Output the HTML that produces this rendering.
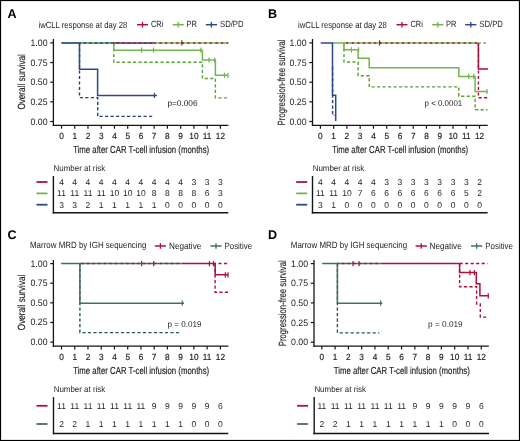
<!DOCTYPE html>
<html><head><meta charset="utf-8"><style>
html,body{margin:0;padding:0;background:#fff;}
body{width:520px;height:441px;overflow:hidden;}
svg{display:block;font-family:"Liberation Sans", sans-serif;will-change:transform;text-rendering:geometricPrecision;}
</style></head><body>
<svg width="520" height="441" viewBox="0 0 520 441">
<rect x="0" y="0" width="520" height="441" fill="#fff"/>
<text x="7.50" y="17.90" font-size="12.6" text-anchor="start" fill="#000" font-weight="bold">A</text>
<text x="38.50" y="27.50" font-size="9.0" text-anchor="start" fill="#1e1e1e" font-weight="normal" textLength="88.8" lengthAdjust="spacingAndGlyphs">iwCLL response at day 28</text>
<line x1="137.00" y1="24.70" x2="148.00" y2="24.70" stroke="#ae1038" stroke-width="1.5"/>
<line x1="142.50" y1="21.90" x2="142.50" y2="27.50" stroke="#ae1038" stroke-width="1.3"/>
<text x="151.00" y="27.40" font-size="9.0" text-anchor="start" fill="#1e1e1e" font-weight="normal" textLength="12.4" lengthAdjust="spacingAndGlyphs">CRi</text>
<line x1="172.60" y1="24.70" x2="183.80" y2="24.70" stroke="#74b450" stroke-width="1.5"/>
<line x1="178.20" y1="21.90" x2="178.20" y2="27.50" stroke="#74b450" stroke-width="1.3"/>
<text x="186.40" y="27.40" font-size="9.0" text-anchor="start" fill="#1e1e1e" font-weight="normal" textLength="10.4" lengthAdjust="spacingAndGlyphs">PR</text>
<line x1="205.80" y1="24.70" x2="217.00" y2="24.70" stroke="#2b4a86" stroke-width="1.5"/>
<line x1="211.40" y1="21.90" x2="211.40" y2="27.50" stroke="#2b4a86" stroke-width="1.3"/>
<text x="220.00" y="27.40" font-size="9.0" text-anchor="start" fill="#1e1e1e" font-weight="normal" textLength="23.6" lengthAdjust="spacingAndGlyphs">SD/PD</text>
<line x1="53.40" y1="39.00" x2="53.40" y2="126.05" stroke="#151515" stroke-width="1.3"/>
<line x1="52.75" y1="125.40" x2="228.40" y2="125.40" stroke="#151515" stroke-width="1.3"/>
<line x1="50.20" y1="121.50" x2="53.40" y2="121.50" stroke="#151515" stroke-width="1.2"/>
<text x="47.50" y="124.50" font-size="9.3" text-anchor="end" fill="#1e1e1e" font-weight="normal" textLength="17.0" lengthAdjust="spacingAndGlyphs">0.00</text>
<line x1="50.20" y1="101.85" x2="53.40" y2="101.85" stroke="#151515" stroke-width="1.2"/>
<text x="47.50" y="104.85" font-size="9.3" text-anchor="end" fill="#1e1e1e" font-weight="normal" textLength="17.0" lengthAdjust="spacingAndGlyphs">0.25</text>
<line x1="50.20" y1="82.20" x2="53.40" y2="82.20" stroke="#151515" stroke-width="1.2"/>
<text x="47.50" y="85.20" font-size="9.3" text-anchor="end" fill="#1e1e1e" font-weight="normal" textLength="17.0" lengthAdjust="spacingAndGlyphs">0.50</text>
<line x1="50.20" y1="62.55" x2="53.40" y2="62.55" stroke="#151515" stroke-width="1.2"/>
<text x="47.50" y="65.55" font-size="9.3" text-anchor="end" fill="#1e1e1e" font-weight="normal" textLength="17.0" lengthAdjust="spacingAndGlyphs">0.75</text>
<line x1="50.20" y1="42.90" x2="53.40" y2="42.90" stroke="#151515" stroke-width="1.2"/>
<text x="47.50" y="45.90" font-size="9.3" text-anchor="end" fill="#1e1e1e" font-weight="normal" textLength="17.0" lengthAdjust="spacingAndGlyphs">1.00</text>
<line x1="61.50" y1="125.40" x2="61.50" y2="128.70" stroke="#151515" stroke-width="1.2"/>
<text x="0.00" y="0.00" font-size="8.8" text-anchor="middle" fill="#1e1e1e" font-weight="normal" transform="translate(61.50,138.80) scale(0.94,1)" stroke="#262626" stroke-width="0.18">0</text>
<line x1="74.74" y1="125.40" x2="74.74" y2="128.70" stroke="#151515" stroke-width="1.2"/>
<text x="0.00" y="0.00" font-size="8.8" text-anchor="middle" fill="#1e1e1e" font-weight="normal" transform="translate(74.74,138.80) scale(0.94,1)" stroke="#262626" stroke-width="0.18">1</text>
<line x1="87.98" y1="125.40" x2="87.98" y2="128.70" stroke="#151515" stroke-width="1.2"/>
<text x="0.00" y="0.00" font-size="8.8" text-anchor="middle" fill="#1e1e1e" font-weight="normal" transform="translate(87.98,138.80) scale(0.94,1)" stroke="#262626" stroke-width="0.18">2</text>
<line x1="101.22" y1="125.40" x2="101.22" y2="128.70" stroke="#151515" stroke-width="1.2"/>
<text x="0.00" y="0.00" font-size="8.8" text-anchor="middle" fill="#1e1e1e" font-weight="normal" transform="translate(101.22,138.80) scale(0.94,1)" stroke="#262626" stroke-width="0.18">3</text>
<line x1="114.46" y1="125.40" x2="114.46" y2="128.70" stroke="#151515" stroke-width="1.2"/>
<text x="0.00" y="0.00" font-size="8.8" text-anchor="middle" fill="#1e1e1e" font-weight="normal" transform="translate(114.46,138.80) scale(0.94,1)" stroke="#262626" stroke-width="0.18">4</text>
<line x1="127.70" y1="125.40" x2="127.70" y2="128.70" stroke="#151515" stroke-width="1.2"/>
<text x="0.00" y="0.00" font-size="8.8" text-anchor="middle" fill="#1e1e1e" font-weight="normal" transform="translate(127.70,138.80) scale(0.94,1)" stroke="#262626" stroke-width="0.18">5</text>
<line x1="140.94" y1="125.40" x2="140.94" y2="128.70" stroke="#151515" stroke-width="1.2"/>
<text x="0.00" y="0.00" font-size="8.8" text-anchor="middle" fill="#1e1e1e" font-weight="normal" transform="translate(140.94,138.80) scale(0.94,1)" stroke="#262626" stroke-width="0.18">6</text>
<line x1="154.18" y1="125.40" x2="154.18" y2="128.70" stroke="#151515" stroke-width="1.2"/>
<text x="0.00" y="0.00" font-size="8.8" text-anchor="middle" fill="#1e1e1e" font-weight="normal" transform="translate(154.18,138.80) scale(0.94,1)" stroke="#262626" stroke-width="0.18">7</text>
<line x1="167.42" y1="125.40" x2="167.42" y2="128.70" stroke="#151515" stroke-width="1.2"/>
<text x="0.00" y="0.00" font-size="8.8" text-anchor="middle" fill="#1e1e1e" font-weight="normal" transform="translate(167.42,138.80) scale(0.94,1)" stroke="#262626" stroke-width="0.18">8</text>
<line x1="180.66" y1="125.40" x2="180.66" y2="128.70" stroke="#151515" stroke-width="1.2"/>
<text x="0.00" y="0.00" font-size="8.8" text-anchor="middle" fill="#1e1e1e" font-weight="normal" transform="translate(180.66,138.80) scale(0.94,1)" stroke="#262626" stroke-width="0.18">9</text>
<line x1="193.90" y1="125.40" x2="193.90" y2="128.70" stroke="#151515" stroke-width="1.2"/>
<text x="0.00" y="0.00" font-size="8.8" text-anchor="middle" fill="#1e1e1e" font-weight="normal" transform="translate(193.90,138.80) scale(0.94,1)" stroke="#262626" stroke-width="0.18">10</text>
<line x1="207.14" y1="125.40" x2="207.14" y2="128.70" stroke="#151515" stroke-width="1.2"/>
<text x="0.00" y="0.00" font-size="8.8" text-anchor="middle" fill="#1e1e1e" font-weight="normal" transform="translate(207.14,138.80) scale(0.94,1)" stroke="#262626" stroke-width="0.18">11</text>
<line x1="220.38" y1="125.40" x2="220.38" y2="128.70" stroke="#151515" stroke-width="1.2"/>
<text x="0.00" y="0.00" font-size="8.8" text-anchor="middle" fill="#1e1e1e" font-weight="normal" transform="translate(220.38,138.80) scale(0.94,1)" stroke="#262626" stroke-width="0.18">12</text>
<text x="141.14" y="152.50" font-size="10.2" text-anchor="middle" fill="#1e1e1e" font-weight="normal" stroke="#262626" stroke-width="0.18" textLength="136" lengthAdjust="spacingAndGlyphs">Time after CAR T-cell infusion (months)</text>
<text x="0.00" y="0.00" font-size="10.4" text-anchor="middle" fill="#1e1e1e" font-weight="normal" transform="translate(25.30,81.80) rotate(-90) scale(1.0,1)" stroke="#262626" stroke-width="0.18" textLength="55.4" lengthAdjust="spacingAndGlyphs">Overall survival</text>
<path d="M113.80,42.90 H113.80 V62.20 H202.40 V78.50 H215.40 V97.90 H228.00" fill="none" stroke="#58a236" stroke-width="1.4" stroke-dasharray="3.2 2.3"/>
<path d="M61.40,42.90 H113.80 V50.20 H202.40 V60.00 H215.40 V75.30 H228.00" fill="none" stroke="#74b450" stroke-width="1.5"/>
<line x1="141.60" y1="47.60" x2="141.60" y2="52.80" stroke="#74b450" stroke-width="1.2"/>
<line x1="153.50" y1="47.60" x2="153.50" y2="52.80" stroke="#74b450" stroke-width="1.2"/>
<line x1="200.80" y1="47.60" x2="200.80" y2="52.80" stroke="#74b450" stroke-width="1.2"/>
<line x1="209.00" y1="57.40" x2="209.00" y2="62.60" stroke="#74b450" stroke-width="1.2"/>
<line x1="214.60" y1="57.40" x2="214.60" y2="62.60" stroke="#74b450" stroke-width="1.2"/>
<line x1="224.50" y1="72.70" x2="224.50" y2="77.90" stroke="#74b450" stroke-width="1.2"/>
<line x1="228.00" y1="72.70" x2="228.00" y2="77.90" stroke="#74b450" stroke-width="1.2"/>
<line x1="79.50" y1="42.90" x2="113.80" y2="42.90" stroke="#74b450" stroke-width="1.5"/>
<line x1="113.80" y1="42.90" x2="153.80" y2="42.90" stroke="#ae1038" stroke-width="1.5"/>
<line x1="153.80" y1="42.90" x2="228.20" y2="42.90" stroke="#74b450" stroke-width="1.5"/>
<line x1="153.80" y1="42.90" x2="228.20" y2="42.90" stroke="#ae1038" stroke-width="1.5" stroke-dasharray="2.2 3.4" stroke-dashoffset="0.00"/>
<line x1="181.80" y1="40.30" x2="181.80" y2="45.50" stroke="#ae1038" stroke-width="1.2"/>
<path d="M79.50,42.90 H79.50 V97.60 H97.70 V116.40 H153.00" fill="none" stroke="#243f7c" stroke-width="1.4" stroke-dasharray="3.2 2.3"/>
<line x1="79.50" y1="42.90" x2="153.60" y2="42.90" stroke="#2b4a86" stroke-width="1.5" stroke-dasharray="3.3 2.2" stroke-dashoffset="1.70"/>
<path d="M61.40,42.90 H79.50 V69.20 H97.60 V95.40 H157.00" fill="none" stroke="#2b4a86" stroke-width="1.5"/>
<line x1="154.40" y1="92.80" x2="154.40" y2="98.00" stroke="#2b4a86" stroke-width="1.2"/>
<text x="167.40" y="105.70" font-size="8.4" text-anchor="start" fill="#1e1e1e" font-weight="normal" textLength="30.2" lengthAdjust="spacingAndGlyphs">p=0.006</text>
<text x="53.60" y="171.20" font-size="8.5" text-anchor="start" fill="#1e1e1e" font-weight="normal" textLength="51.6" lengthAdjust="spacingAndGlyphs">Number at risk</text>
<line x1="53.40" y1="176.00" x2="53.40" y2="213.50" stroke="#151515" stroke-width="1.4"/>
<line x1="52.70" y1="212.80" x2="228.30" y2="212.80" stroke="#151515" stroke-width="1.5"/>
<line x1="36.50" y1="182.00" x2="47.50" y2="182.00" stroke="#ae1038" stroke-width="1.8"/>
<text x="61.50" y="185.00" font-size="8.5" text-anchor="middle" fill="#1e1e1e" font-weight="normal">4</text>
<text x="74.74" y="185.00" font-size="8.5" text-anchor="middle" fill="#1e1e1e" font-weight="normal">4</text>
<text x="87.98" y="185.00" font-size="8.5" text-anchor="middle" fill="#1e1e1e" font-weight="normal">4</text>
<text x="101.22" y="185.00" font-size="8.5" text-anchor="middle" fill="#1e1e1e" font-weight="normal">4</text>
<text x="114.46" y="185.00" font-size="8.5" text-anchor="middle" fill="#1e1e1e" font-weight="normal">4</text>
<text x="127.70" y="185.00" font-size="8.5" text-anchor="middle" fill="#1e1e1e" font-weight="normal">4</text>
<text x="140.94" y="185.00" font-size="8.5" text-anchor="middle" fill="#1e1e1e" font-weight="normal">4</text>
<text x="154.18" y="185.00" font-size="8.5" text-anchor="middle" fill="#1e1e1e" font-weight="normal">4</text>
<text x="167.42" y="185.00" font-size="8.5" text-anchor="middle" fill="#1e1e1e" font-weight="normal">4</text>
<text x="180.66" y="185.00" font-size="8.5" text-anchor="middle" fill="#1e1e1e" font-weight="normal">4</text>
<text x="193.90" y="185.00" font-size="8.5" text-anchor="middle" fill="#1e1e1e" font-weight="normal">3</text>
<text x="207.14" y="185.00" font-size="8.5" text-anchor="middle" fill="#1e1e1e" font-weight="normal">3</text>
<text x="220.38" y="185.00" font-size="8.5" text-anchor="middle" fill="#1e1e1e" font-weight="normal">3</text>
<line x1="36.50" y1="193.40" x2="47.50" y2="193.40" stroke="#74b450" stroke-width="1.8"/>
<text x="61.50" y="196.40" font-size="8.5" text-anchor="middle" fill="#1e1e1e" font-weight="normal">11</text>
<text x="74.74" y="196.40" font-size="8.5" text-anchor="middle" fill="#1e1e1e" font-weight="normal">11</text>
<text x="87.98" y="196.40" font-size="8.5" text-anchor="middle" fill="#1e1e1e" font-weight="normal">11</text>
<text x="101.22" y="196.40" font-size="8.5" text-anchor="middle" fill="#1e1e1e" font-weight="normal">11</text>
<text x="114.46" y="196.40" font-size="8.5" text-anchor="middle" fill="#1e1e1e" font-weight="normal">10</text>
<text x="127.70" y="196.40" font-size="8.5" text-anchor="middle" fill="#1e1e1e" font-weight="normal">10</text>
<text x="140.94" y="196.40" font-size="8.5" text-anchor="middle" fill="#1e1e1e" font-weight="normal">10</text>
<text x="154.18" y="196.40" font-size="8.5" text-anchor="middle" fill="#1e1e1e" font-weight="normal">8</text>
<text x="167.42" y="196.40" font-size="8.5" text-anchor="middle" fill="#1e1e1e" font-weight="normal">8</text>
<text x="180.66" y="196.40" font-size="8.5" text-anchor="middle" fill="#1e1e1e" font-weight="normal">8</text>
<text x="193.90" y="196.40" font-size="8.5" text-anchor="middle" fill="#1e1e1e" font-weight="normal">8</text>
<text x="207.14" y="196.40" font-size="8.5" text-anchor="middle" fill="#1e1e1e" font-weight="normal">6</text>
<text x="220.38" y="196.40" font-size="8.5" text-anchor="middle" fill="#1e1e1e" font-weight="normal">3</text>
<line x1="36.50" y1="204.70" x2="47.50" y2="204.70" stroke="#2b4a86" stroke-width="1.8"/>
<text x="61.50" y="207.70" font-size="8.5" text-anchor="middle" fill="#1e1e1e" font-weight="normal">3</text>
<text x="74.74" y="207.70" font-size="8.5" text-anchor="middle" fill="#1e1e1e" font-weight="normal">3</text>
<text x="87.98" y="207.70" font-size="8.5" text-anchor="middle" fill="#1e1e1e" font-weight="normal">2</text>
<text x="101.22" y="207.70" font-size="8.5" text-anchor="middle" fill="#1e1e1e" font-weight="normal">1</text>
<text x="114.46" y="207.70" font-size="8.5" text-anchor="middle" fill="#1e1e1e" font-weight="normal">1</text>
<text x="127.70" y="207.70" font-size="8.5" text-anchor="middle" fill="#1e1e1e" font-weight="normal">1</text>
<text x="140.94" y="207.70" font-size="8.5" text-anchor="middle" fill="#1e1e1e" font-weight="normal">1</text>
<text x="154.18" y="207.70" font-size="8.5" text-anchor="middle" fill="#1e1e1e" font-weight="normal">1</text>
<text x="167.42" y="207.70" font-size="8.5" text-anchor="middle" fill="#1e1e1e" font-weight="normal">0</text>
<text x="180.66" y="207.70" font-size="8.5" text-anchor="middle" fill="#1e1e1e" font-weight="normal">0</text>
<text x="193.90" y="207.70" font-size="8.5" text-anchor="middle" fill="#1e1e1e" font-weight="normal">0</text>
<text x="207.14" y="207.70" font-size="8.5" text-anchor="middle" fill="#1e1e1e" font-weight="normal">0</text>
<text x="220.38" y="207.70" font-size="8.5" text-anchor="middle" fill="#1e1e1e" font-weight="normal">0</text>
<text x="268.00" y="17.90" font-size="12.6" text-anchor="start" fill="#000" font-weight="bold">B</text>
<text x="298.10" y="27.50" font-size="9.0" text-anchor="start" fill="#1e1e1e" font-weight="normal" textLength="88.8" lengthAdjust="spacingAndGlyphs">iwCLL response at day 28</text>
<line x1="396.50" y1="24.70" x2="407.50" y2="24.70" stroke="#ae1038" stroke-width="1.5"/>
<line x1="402.00" y1="21.90" x2="402.00" y2="27.50" stroke="#ae1038" stroke-width="1.3"/>
<text x="410.50" y="27.40" font-size="9.0" text-anchor="start" fill="#1e1e1e" font-weight="normal" textLength="12.4" lengthAdjust="spacingAndGlyphs">CRi</text>
<line x1="432.20" y1="24.70" x2="443.40" y2="24.70" stroke="#74b450" stroke-width="1.5"/>
<line x1="437.80" y1="21.90" x2="437.80" y2="27.50" stroke="#74b450" stroke-width="1.3"/>
<text x="446.10" y="27.40" font-size="9.0" text-anchor="start" fill="#1e1e1e" font-weight="normal" textLength="10.4" lengthAdjust="spacingAndGlyphs">PR</text>
<line x1="465.20" y1="24.70" x2="476.40" y2="24.70" stroke="#2b4a86" stroke-width="1.5"/>
<line x1="470.80" y1="21.90" x2="470.80" y2="27.50" stroke="#2b4a86" stroke-width="1.3"/>
<text x="479.30" y="27.40" font-size="9.0" text-anchor="start" fill="#1e1e1e" font-weight="normal" textLength="23.6" lengthAdjust="spacingAndGlyphs">SD/PD</text>
<line x1="312.50" y1="39.00" x2="312.50" y2="126.05" stroke="#151515" stroke-width="1.3"/>
<line x1="311.85" y1="125.40" x2="487.70" y2="125.40" stroke="#151515" stroke-width="1.3"/>
<line x1="309.30" y1="121.50" x2="312.50" y2="121.50" stroke="#151515" stroke-width="1.2"/>
<text x="306.60" y="124.50" font-size="9.3" text-anchor="end" fill="#1e1e1e" font-weight="normal" textLength="17.0" lengthAdjust="spacingAndGlyphs">0.00</text>
<line x1="309.30" y1="101.85" x2="312.50" y2="101.85" stroke="#151515" stroke-width="1.2"/>
<text x="306.60" y="104.85" font-size="9.3" text-anchor="end" fill="#1e1e1e" font-weight="normal" textLength="17.0" lengthAdjust="spacingAndGlyphs">0.25</text>
<line x1="309.30" y1="82.20" x2="312.50" y2="82.20" stroke="#151515" stroke-width="1.2"/>
<text x="306.60" y="85.20" font-size="9.3" text-anchor="end" fill="#1e1e1e" font-weight="normal" textLength="17.0" lengthAdjust="spacingAndGlyphs">0.50</text>
<line x1="309.30" y1="62.55" x2="312.50" y2="62.55" stroke="#151515" stroke-width="1.2"/>
<text x="306.60" y="65.55" font-size="9.3" text-anchor="end" fill="#1e1e1e" font-weight="normal" textLength="17.0" lengthAdjust="spacingAndGlyphs">0.75</text>
<line x1="309.30" y1="42.90" x2="312.50" y2="42.90" stroke="#151515" stroke-width="1.2"/>
<text x="306.60" y="45.90" font-size="9.3" text-anchor="end" fill="#1e1e1e" font-weight="normal" textLength="17.0" lengthAdjust="spacingAndGlyphs">1.00</text>
<line x1="320.40" y1="125.40" x2="320.40" y2="128.70" stroke="#151515" stroke-width="1.2"/>
<text x="0.00" y="0.00" font-size="8.8" text-anchor="middle" fill="#1e1e1e" font-weight="normal" transform="translate(320.40,138.80) scale(0.94,1)" stroke="#262626" stroke-width="0.18">0</text>
<line x1="333.66" y1="125.40" x2="333.66" y2="128.70" stroke="#151515" stroke-width="1.2"/>
<text x="0.00" y="0.00" font-size="8.8" text-anchor="middle" fill="#1e1e1e" font-weight="normal" transform="translate(333.66,138.80) scale(0.94,1)" stroke="#262626" stroke-width="0.18">1</text>
<line x1="346.92" y1="125.40" x2="346.92" y2="128.70" stroke="#151515" stroke-width="1.2"/>
<text x="0.00" y="0.00" font-size="8.8" text-anchor="middle" fill="#1e1e1e" font-weight="normal" transform="translate(346.92,138.80) scale(0.94,1)" stroke="#262626" stroke-width="0.18">2</text>
<line x1="360.18" y1="125.40" x2="360.18" y2="128.70" stroke="#151515" stroke-width="1.2"/>
<text x="0.00" y="0.00" font-size="8.8" text-anchor="middle" fill="#1e1e1e" font-weight="normal" transform="translate(360.18,138.80) scale(0.94,1)" stroke="#262626" stroke-width="0.18">3</text>
<line x1="373.44" y1="125.40" x2="373.44" y2="128.70" stroke="#151515" stroke-width="1.2"/>
<text x="0.00" y="0.00" font-size="8.8" text-anchor="middle" fill="#1e1e1e" font-weight="normal" transform="translate(373.44,138.80) scale(0.94,1)" stroke="#262626" stroke-width="0.18">4</text>
<line x1="386.70" y1="125.40" x2="386.70" y2="128.70" stroke="#151515" stroke-width="1.2"/>
<text x="0.00" y="0.00" font-size="8.8" text-anchor="middle" fill="#1e1e1e" font-weight="normal" transform="translate(386.70,138.80) scale(0.94,1)" stroke="#262626" stroke-width="0.18">5</text>
<line x1="399.96" y1="125.40" x2="399.96" y2="128.70" stroke="#151515" stroke-width="1.2"/>
<text x="0.00" y="0.00" font-size="8.8" text-anchor="middle" fill="#1e1e1e" font-weight="normal" transform="translate(399.96,138.80) scale(0.94,1)" stroke="#262626" stroke-width="0.18">6</text>
<line x1="413.22" y1="125.40" x2="413.22" y2="128.70" stroke="#151515" stroke-width="1.2"/>
<text x="0.00" y="0.00" font-size="8.8" text-anchor="middle" fill="#1e1e1e" font-weight="normal" transform="translate(413.22,138.80) scale(0.94,1)" stroke="#262626" stroke-width="0.18">7</text>
<line x1="426.48" y1="125.40" x2="426.48" y2="128.70" stroke="#151515" stroke-width="1.2"/>
<text x="0.00" y="0.00" font-size="8.8" text-anchor="middle" fill="#1e1e1e" font-weight="normal" transform="translate(426.48,138.80) scale(0.94,1)" stroke="#262626" stroke-width="0.18">8</text>
<line x1="439.74" y1="125.40" x2="439.74" y2="128.70" stroke="#151515" stroke-width="1.2"/>
<text x="0.00" y="0.00" font-size="8.8" text-anchor="middle" fill="#1e1e1e" font-weight="normal" transform="translate(439.74,138.80) scale(0.94,1)" stroke="#262626" stroke-width="0.18">9</text>
<line x1="453.00" y1="125.40" x2="453.00" y2="128.70" stroke="#151515" stroke-width="1.2"/>
<text x="0.00" y="0.00" font-size="8.8" text-anchor="middle" fill="#1e1e1e" font-weight="normal" transform="translate(453.00,138.80) scale(0.94,1)" stroke="#262626" stroke-width="0.18">10</text>
<line x1="466.26" y1="125.40" x2="466.26" y2="128.70" stroke="#151515" stroke-width="1.2"/>
<text x="0.00" y="0.00" font-size="8.8" text-anchor="middle" fill="#1e1e1e" font-weight="normal" transform="translate(466.26,138.80) scale(0.94,1)" stroke="#262626" stroke-width="0.18">11</text>
<line x1="479.52" y1="125.40" x2="479.52" y2="128.70" stroke="#151515" stroke-width="1.2"/>
<text x="0.00" y="0.00" font-size="8.8" text-anchor="middle" fill="#1e1e1e" font-weight="normal" transform="translate(479.52,138.80) scale(0.94,1)" stroke="#262626" stroke-width="0.18">12</text>
<text x="400.16" y="152.50" font-size="10.2" text-anchor="middle" fill="#1e1e1e" font-weight="normal" stroke="#262626" stroke-width="0.18" textLength="136" lengthAdjust="spacingAndGlyphs">Time after CAR T-cell infusion (months)</text>
<text x="0.00" y="0.00" font-size="10.4" text-anchor="middle" fill="#1e1e1e" font-weight="normal" transform="translate(284.60,82.40) rotate(-90) scale(1.0,1)" stroke="#262626" stroke-width="0.18" textLength="86.0" lengthAdjust="spacingAndGlyphs">Progression-free survival</text>
<path d="M344.00,42.90 H344.00 V62.00 H358.10 V75.70 H369.20 V86.90 H458.80 V96.20 H475.10 V109.80 H487.50" fill="none" stroke="#58a236" stroke-width="1.4" stroke-dasharray="3.2 2.3"/>
<path d="M332.50,42.90 H344.00 V49.80 H358.10 V58.30 H369.20 V67.80 H458.80 V76.40 H475.10 V91.50 H487.50" fill="none" stroke="#74b450" stroke-width="1.5"/>
<line x1="351.40" y1="47.20" x2="351.40" y2="52.40" stroke="#74b450" stroke-width="1.2"/>
<line x1="358.60" y1="47.20" x2="358.60" y2="52.40" stroke="#74b450" stroke-width="1.2"/>
<line x1="468.60" y1="73.80" x2="468.60" y2="79.00" stroke="#74b450" stroke-width="1.2"/>
<line x1="473.70" y1="73.80" x2="473.70" y2="79.00" stroke="#74b450" stroke-width="1.2"/>
<line x1="487.00" y1="88.90" x2="487.00" y2="94.10" stroke="#74b450" stroke-width="1.2"/>
<line x1="344.00" y1="42.90" x2="478.40" y2="42.90" stroke="#74b450" stroke-width="1.5"/>
<line x1="344.00" y1="42.90" x2="478.40" y2="42.90" stroke="#ae1038" stroke-width="1.5" stroke-dasharray="2.2 3.39" stroke-dashoffset="3.49"/>
<line x1="379.60" y1="40.30" x2="379.60" y2="45.50" stroke="#ae1038" stroke-width="1.2"/>
<line x1="478.40" y1="42.90" x2="486.00" y2="42.90" stroke="#74b450" stroke-width="1.5" stroke-dasharray="3.3 2.4" stroke-dashoffset="0.80"/>
<path d="M478.40,42.90 H478.40 V97.80 H488.00" fill="none" stroke="#ae1038" stroke-width="1.4" stroke-dasharray="3.2 2.3"/>
<path d="M478.40,42.90 H478.40 V69.00 H488.00" fill="none" stroke="#ae1038" stroke-width="1.5"/>
<path d="M332.60,67.00 H332.60 V115.40 H334.50" fill="none" stroke="#243f7c" stroke-width="1.4" stroke-dasharray="3.2 2.3"/>
<path d="M320.70,42.90 H332.50 V95.20 H335.70 V121.00 H335.70" fill="none" stroke="#2b4a86" stroke-width="1.5"/>
<text x="424.50" y="105.70" font-size="8.4" text-anchor="start" fill="#1e1e1e" font-weight="normal" textLength="37.8" lengthAdjust="spacingAndGlyphs">p &lt; 0.0001</text>
<text x="312.70" y="171.20" font-size="8.5" text-anchor="start" fill="#1e1e1e" font-weight="normal" textLength="51.6" lengthAdjust="spacingAndGlyphs">Number at risk</text>
<line x1="312.50" y1="176.00" x2="312.50" y2="213.50" stroke="#151515" stroke-width="1.4"/>
<line x1="311.80" y1="212.80" x2="487.60" y2="212.80" stroke="#151515" stroke-width="1.5"/>
<line x1="296.20" y1="182.00" x2="307.20" y2="182.00" stroke="#ae1038" stroke-width="1.8"/>
<text x="320.40" y="185.00" font-size="8.5" text-anchor="middle" fill="#1e1e1e" font-weight="normal">4</text>
<text x="333.66" y="185.00" font-size="8.5" text-anchor="middle" fill="#1e1e1e" font-weight="normal">4</text>
<text x="346.92" y="185.00" font-size="8.5" text-anchor="middle" fill="#1e1e1e" font-weight="normal">4</text>
<text x="360.18" y="185.00" font-size="8.5" text-anchor="middle" fill="#1e1e1e" font-weight="normal">4</text>
<text x="373.44" y="185.00" font-size="8.5" text-anchor="middle" fill="#1e1e1e" font-weight="normal">4</text>
<text x="386.70" y="185.00" font-size="8.5" text-anchor="middle" fill="#1e1e1e" font-weight="normal">3</text>
<text x="399.96" y="185.00" font-size="8.5" text-anchor="middle" fill="#1e1e1e" font-weight="normal">3</text>
<text x="413.22" y="185.00" font-size="8.5" text-anchor="middle" fill="#1e1e1e" font-weight="normal">3</text>
<text x="426.48" y="185.00" font-size="8.5" text-anchor="middle" fill="#1e1e1e" font-weight="normal">3</text>
<text x="439.74" y="185.00" font-size="8.5" text-anchor="middle" fill="#1e1e1e" font-weight="normal">3</text>
<text x="453.00" y="185.00" font-size="8.5" text-anchor="middle" fill="#1e1e1e" font-weight="normal">3</text>
<text x="466.26" y="185.00" font-size="8.5" text-anchor="middle" fill="#1e1e1e" font-weight="normal">3</text>
<text x="479.52" y="185.00" font-size="8.5" text-anchor="middle" fill="#1e1e1e" font-weight="normal">2</text>
<line x1="296.20" y1="193.40" x2="307.20" y2="193.40" stroke="#74b450" stroke-width="1.8"/>
<text x="320.40" y="196.40" font-size="8.5" text-anchor="middle" fill="#1e1e1e" font-weight="normal">11</text>
<text x="333.66" y="196.40" font-size="8.5" text-anchor="middle" fill="#1e1e1e" font-weight="normal">11</text>
<text x="346.92" y="196.40" font-size="8.5" text-anchor="middle" fill="#1e1e1e" font-weight="normal">10</text>
<text x="360.18" y="196.40" font-size="8.5" text-anchor="middle" fill="#1e1e1e" font-weight="normal">7</text>
<text x="373.44" y="196.40" font-size="8.5" text-anchor="middle" fill="#1e1e1e" font-weight="normal">6</text>
<text x="386.70" y="196.40" font-size="8.5" text-anchor="middle" fill="#1e1e1e" font-weight="normal">6</text>
<text x="399.96" y="196.40" font-size="8.5" text-anchor="middle" fill="#1e1e1e" font-weight="normal">6</text>
<text x="413.22" y="196.40" font-size="8.5" text-anchor="middle" fill="#1e1e1e" font-weight="normal">6</text>
<text x="426.48" y="196.40" font-size="8.5" text-anchor="middle" fill="#1e1e1e" font-weight="normal">6</text>
<text x="439.74" y="196.40" font-size="8.5" text-anchor="middle" fill="#1e1e1e" font-weight="normal">6</text>
<text x="453.00" y="196.40" font-size="8.5" text-anchor="middle" fill="#1e1e1e" font-weight="normal">6</text>
<text x="466.26" y="196.40" font-size="8.5" text-anchor="middle" fill="#1e1e1e" font-weight="normal">5</text>
<text x="479.52" y="196.40" font-size="8.5" text-anchor="middle" fill="#1e1e1e" font-weight="normal">2</text>
<line x1="296.20" y1="204.70" x2="307.20" y2="204.70" stroke="#2b4a86" stroke-width="1.8"/>
<text x="320.40" y="207.70" font-size="8.5" text-anchor="middle" fill="#1e1e1e" font-weight="normal">3</text>
<text x="333.66" y="207.70" font-size="8.5" text-anchor="middle" fill="#1e1e1e" font-weight="normal">1</text>
<text x="346.92" y="207.70" font-size="8.5" text-anchor="middle" fill="#1e1e1e" font-weight="normal">0</text>
<text x="360.18" y="207.70" font-size="8.5" text-anchor="middle" fill="#1e1e1e" font-weight="normal">0</text>
<text x="373.44" y="207.70" font-size="8.5" text-anchor="middle" fill="#1e1e1e" font-weight="normal">0</text>
<text x="386.70" y="207.70" font-size="8.5" text-anchor="middle" fill="#1e1e1e" font-weight="normal">0</text>
<text x="399.96" y="207.70" font-size="8.5" text-anchor="middle" fill="#1e1e1e" font-weight="normal">0</text>
<text x="413.22" y="207.70" font-size="8.5" text-anchor="middle" fill="#1e1e1e" font-weight="normal">0</text>
<text x="426.48" y="207.70" font-size="8.5" text-anchor="middle" fill="#1e1e1e" font-weight="normal">0</text>
<text x="439.74" y="207.70" font-size="8.5" text-anchor="middle" fill="#1e1e1e" font-weight="normal">0</text>
<text x="453.00" y="207.70" font-size="8.5" text-anchor="middle" fill="#1e1e1e" font-weight="normal">0</text>
<text x="466.26" y="207.70" font-size="8.5" text-anchor="middle" fill="#1e1e1e" font-weight="normal">0</text>
<text x="479.52" y="207.70" font-size="8.5" text-anchor="middle" fill="#1e1e1e" font-weight="normal">0</text>
<text x="7.60" y="239.00" font-size="12.6" text-anchor="start" fill="#000" font-weight="bold">C</text>
<text x="30.00" y="248.30" font-size="9.0" text-anchor="start" fill="#1e1e1e" font-weight="normal" textLength="116.4" lengthAdjust="spacingAndGlyphs">Marrow MRD by IGH sequencing</text>
<line x1="154.80" y1="246.00" x2="166.00" y2="246.00" stroke="#ae1038" stroke-width="1.5"/>
<line x1="160.40" y1="243.20" x2="160.40" y2="248.80" stroke="#ae1038" stroke-width="1.3"/>
<text x="169.10" y="248.70" font-size="9.0" text-anchor="start" fill="#1e1e1e" font-weight="normal" textLength="32.2" lengthAdjust="spacingAndGlyphs">Negative</text>
<line x1="210.40" y1="246.00" x2="221.60" y2="246.00" stroke="#44705b" stroke-width="1.5"/>
<line x1="216.00" y1="243.20" x2="216.00" y2="248.80" stroke="#44705b" stroke-width="1.3"/>
<text x="224.50" y="248.70" font-size="9.0" text-anchor="start" fill="#1e1e1e" font-weight="normal" textLength="27.6" lengthAdjust="spacingAndGlyphs">Positive</text>
<line x1="53.40" y1="260.00" x2="53.40" y2="346.85" stroke="#151515" stroke-width="1.3"/>
<line x1="52.75" y1="346.20" x2="228.40" y2="346.20" stroke="#151515" stroke-width="1.3"/>
<line x1="50.20" y1="342.10" x2="53.40" y2="342.10" stroke="#151515" stroke-width="1.2"/>
<text x="47.50" y="345.10" font-size="9.3" text-anchor="end" fill="#1e1e1e" font-weight="normal" textLength="17.0" lengthAdjust="spacingAndGlyphs">0.00</text>
<line x1="50.20" y1="322.48" x2="53.40" y2="322.48" stroke="#151515" stroke-width="1.2"/>
<text x="47.50" y="325.48" font-size="9.3" text-anchor="end" fill="#1e1e1e" font-weight="normal" textLength="17.0" lengthAdjust="spacingAndGlyphs">0.25</text>
<line x1="50.20" y1="302.85" x2="53.40" y2="302.85" stroke="#151515" stroke-width="1.2"/>
<text x="47.50" y="305.85" font-size="9.3" text-anchor="end" fill="#1e1e1e" font-weight="normal" textLength="17.0" lengthAdjust="spacingAndGlyphs">0.50</text>
<line x1="50.20" y1="283.23" x2="53.40" y2="283.23" stroke="#151515" stroke-width="1.2"/>
<text x="47.50" y="286.23" font-size="9.3" text-anchor="end" fill="#1e1e1e" font-weight="normal" textLength="17.0" lengthAdjust="spacingAndGlyphs">0.75</text>
<line x1="50.20" y1="263.60" x2="53.40" y2="263.60" stroke="#151515" stroke-width="1.2"/>
<text x="47.50" y="266.60" font-size="9.3" text-anchor="end" fill="#1e1e1e" font-weight="normal" textLength="17.0" lengthAdjust="spacingAndGlyphs">1.00</text>
<line x1="61.50" y1="346.20" x2="61.50" y2="349.50" stroke="#151515" stroke-width="1.2"/>
<text x="0.00" y="0.00" font-size="8.8" text-anchor="middle" fill="#1e1e1e" font-weight="normal" transform="translate(61.50,359.80) scale(0.94,1)" stroke="#262626" stroke-width="0.18">0</text>
<line x1="74.74" y1="346.20" x2="74.74" y2="349.50" stroke="#151515" stroke-width="1.2"/>
<text x="0.00" y="0.00" font-size="8.8" text-anchor="middle" fill="#1e1e1e" font-weight="normal" transform="translate(74.74,359.80) scale(0.94,1)" stroke="#262626" stroke-width="0.18">1</text>
<line x1="87.98" y1="346.20" x2="87.98" y2="349.50" stroke="#151515" stroke-width="1.2"/>
<text x="0.00" y="0.00" font-size="8.8" text-anchor="middle" fill="#1e1e1e" font-weight="normal" transform="translate(87.98,359.80) scale(0.94,1)" stroke="#262626" stroke-width="0.18">2</text>
<line x1="101.22" y1="346.20" x2="101.22" y2="349.50" stroke="#151515" stroke-width="1.2"/>
<text x="0.00" y="0.00" font-size="8.8" text-anchor="middle" fill="#1e1e1e" font-weight="normal" transform="translate(101.22,359.80) scale(0.94,1)" stroke="#262626" stroke-width="0.18">3</text>
<line x1="114.46" y1="346.20" x2="114.46" y2="349.50" stroke="#151515" stroke-width="1.2"/>
<text x="0.00" y="0.00" font-size="8.8" text-anchor="middle" fill="#1e1e1e" font-weight="normal" transform="translate(114.46,359.80) scale(0.94,1)" stroke="#262626" stroke-width="0.18">4</text>
<line x1="127.70" y1="346.20" x2="127.70" y2="349.50" stroke="#151515" stroke-width="1.2"/>
<text x="0.00" y="0.00" font-size="8.8" text-anchor="middle" fill="#1e1e1e" font-weight="normal" transform="translate(127.70,359.80) scale(0.94,1)" stroke="#262626" stroke-width="0.18">5</text>
<line x1="140.94" y1="346.20" x2="140.94" y2="349.50" stroke="#151515" stroke-width="1.2"/>
<text x="0.00" y="0.00" font-size="8.8" text-anchor="middle" fill="#1e1e1e" font-weight="normal" transform="translate(140.94,359.80) scale(0.94,1)" stroke="#262626" stroke-width="0.18">6</text>
<line x1="154.18" y1="346.20" x2="154.18" y2="349.50" stroke="#151515" stroke-width="1.2"/>
<text x="0.00" y="0.00" font-size="8.8" text-anchor="middle" fill="#1e1e1e" font-weight="normal" transform="translate(154.18,359.80) scale(0.94,1)" stroke="#262626" stroke-width="0.18">7</text>
<line x1="167.42" y1="346.20" x2="167.42" y2="349.50" stroke="#151515" stroke-width="1.2"/>
<text x="0.00" y="0.00" font-size="8.8" text-anchor="middle" fill="#1e1e1e" font-weight="normal" transform="translate(167.42,359.80) scale(0.94,1)" stroke="#262626" stroke-width="0.18">8</text>
<line x1="180.66" y1="346.20" x2="180.66" y2="349.50" stroke="#151515" stroke-width="1.2"/>
<text x="0.00" y="0.00" font-size="8.8" text-anchor="middle" fill="#1e1e1e" font-weight="normal" transform="translate(180.66,359.80) scale(0.94,1)" stroke="#262626" stroke-width="0.18">9</text>
<line x1="193.90" y1="346.20" x2="193.90" y2="349.50" stroke="#151515" stroke-width="1.2"/>
<text x="0.00" y="0.00" font-size="8.8" text-anchor="middle" fill="#1e1e1e" font-weight="normal" transform="translate(193.90,359.80) scale(0.94,1)" stroke="#262626" stroke-width="0.18">10</text>
<line x1="207.14" y1="346.20" x2="207.14" y2="349.50" stroke="#151515" stroke-width="1.2"/>
<text x="0.00" y="0.00" font-size="8.8" text-anchor="middle" fill="#1e1e1e" font-weight="normal" transform="translate(207.14,359.80) scale(0.94,1)" stroke="#262626" stroke-width="0.18">11</text>
<line x1="220.38" y1="346.20" x2="220.38" y2="349.50" stroke="#151515" stroke-width="1.2"/>
<text x="0.00" y="0.00" font-size="8.8" text-anchor="middle" fill="#1e1e1e" font-weight="normal" transform="translate(220.38,359.80) scale(0.94,1)" stroke="#262626" stroke-width="0.18">12</text>
<text x="141.14" y="373.50" font-size="10.2" text-anchor="middle" fill="#1e1e1e" font-weight="normal" stroke="#262626" stroke-width="0.18" textLength="136" lengthAdjust="spacingAndGlyphs">Time after CAR T-cell infusion (months)</text>
<text x="0.00" y="0.00" font-size="10.4" text-anchor="middle" fill="#1e1e1e" font-weight="normal" transform="translate(25.30,302.45) rotate(-90) scale(1.0,1)" stroke="#262626" stroke-width="0.18" textLength="55.4" lengthAdjust="spacingAndGlyphs">Overall survival</text>
<path d="M215.10,263.60 H215.10 V292.30 H228.20" fill="none" stroke="#ae1038" stroke-width="1.4" stroke-dasharray="3.2 2.3"/>
<line x1="215.10" y1="263.60" x2="228.20" y2="263.60" stroke="#ae1038" stroke-width="1.5" stroke-dasharray="3.2 2.3" stroke-dashoffset="2.20"/>
<path d="M181.50,263.60 H215.20 V274.80 H228.20" fill="none" stroke="#ae1038" stroke-width="1.5"/>
<line x1="209.40" y1="261.00" x2="209.40" y2="266.20" stroke="#ae1038" stroke-width="1.2"/>
<line x1="213.50" y1="261.00" x2="213.50" y2="266.20" stroke="#ae1038" stroke-width="1.2"/>
<line x1="225.30" y1="272.20" x2="225.30" y2="277.40" stroke="#ae1038" stroke-width="1.2"/>
<line x1="228.00" y1="272.20" x2="228.00" y2="277.40" stroke="#ae1038" stroke-width="1.2"/>
<line x1="79.90" y1="263.60" x2="181.50" y2="263.60" stroke="#44705b" stroke-width="1.5"/>
<line x1="79.90" y1="263.60" x2="181.50" y2="263.60" stroke="#ae1038" stroke-width="1.5" stroke-dasharray="2.2 3.4" stroke-dashoffset="4.10"/>
<line x1="141.60" y1="261.00" x2="141.60" y2="266.20" stroke="#ae1038" stroke-width="1.2"/>
<line x1="153.70" y1="261.00" x2="153.70" y2="266.20" stroke="#ae1038" stroke-width="1.2"/>
<path d="M79.90,263.60 H79.90 V332.60 H179.80" fill="none" stroke="#285a41" stroke-width="1.4" stroke-dasharray="3.2 2.3"/>
<path d="M61.10,263.60 H79.90 V303.20 H184.00" fill="none" stroke="#44705b" stroke-width="1.5"/>
<line x1="182.30" y1="300.60" x2="182.30" y2="305.80" stroke="#44705b" stroke-width="1.2"/>
<text x="167.50" y="326.90" font-size="8.4" text-anchor="start" fill="#1e1e1e" font-weight="normal" textLength="34.0" lengthAdjust="spacingAndGlyphs">p = 0.019</text>
<text x="53.70" y="391.90" font-size="8.5" text-anchor="start" fill="#1e1e1e" font-weight="normal" textLength="51.6" lengthAdjust="spacingAndGlyphs">Number at risk</text>
<line x1="53.50" y1="397.10" x2="53.50" y2="434.20" stroke="#151515" stroke-width="1.4"/>
<line x1="52.80" y1="433.50" x2="228.30" y2="433.50" stroke="#151515" stroke-width="1.5"/>
<line x1="36.50" y1="405.80" x2="47.50" y2="405.80" stroke="#ae1038" stroke-width="1.8"/>
<text x="61.50" y="408.80" font-size="8.5" text-anchor="middle" fill="#1e1e1e" font-weight="normal">11</text>
<text x="74.74" y="408.80" font-size="8.5" text-anchor="middle" fill="#1e1e1e" font-weight="normal">11</text>
<text x="87.98" y="408.80" font-size="8.5" text-anchor="middle" fill="#1e1e1e" font-weight="normal">11</text>
<text x="101.22" y="408.80" font-size="8.5" text-anchor="middle" fill="#1e1e1e" font-weight="normal">11</text>
<text x="114.46" y="408.80" font-size="8.5" text-anchor="middle" fill="#1e1e1e" font-weight="normal">11</text>
<text x="127.70" y="408.80" font-size="8.5" text-anchor="middle" fill="#1e1e1e" font-weight="normal">11</text>
<text x="140.94" y="408.80" font-size="8.5" text-anchor="middle" fill="#1e1e1e" font-weight="normal">11</text>
<text x="154.18" y="408.80" font-size="8.5" text-anchor="middle" fill="#1e1e1e" font-weight="normal">9</text>
<text x="167.42" y="408.80" font-size="8.5" text-anchor="middle" fill="#1e1e1e" font-weight="normal">9</text>
<text x="180.66" y="408.80" font-size="8.5" text-anchor="middle" fill="#1e1e1e" font-weight="normal">9</text>
<text x="193.90" y="408.80" font-size="8.5" text-anchor="middle" fill="#1e1e1e" font-weight="normal">9</text>
<text x="207.14" y="408.80" font-size="8.5" text-anchor="middle" fill="#1e1e1e" font-weight="normal">9</text>
<text x="220.38" y="408.80" font-size="8.5" text-anchor="middle" fill="#1e1e1e" font-weight="normal">6</text>
<line x1="36.50" y1="424.00" x2="47.50" y2="424.00" stroke="#44705b" stroke-width="1.8"/>
<text x="61.50" y="427.00" font-size="8.5" text-anchor="middle" fill="#1e1e1e" font-weight="normal">2</text>
<text x="74.74" y="427.00" font-size="8.5" text-anchor="middle" fill="#1e1e1e" font-weight="normal">2</text>
<text x="87.98" y="427.00" font-size="8.5" text-anchor="middle" fill="#1e1e1e" font-weight="normal">1</text>
<text x="101.22" y="427.00" font-size="8.5" text-anchor="middle" fill="#1e1e1e" font-weight="normal">1</text>
<text x="114.46" y="427.00" font-size="8.5" text-anchor="middle" fill="#1e1e1e" font-weight="normal">1</text>
<text x="127.70" y="427.00" font-size="8.5" text-anchor="middle" fill="#1e1e1e" font-weight="normal">1</text>
<text x="140.94" y="427.00" font-size="8.5" text-anchor="middle" fill="#1e1e1e" font-weight="normal">1</text>
<text x="154.18" y="427.00" font-size="8.5" text-anchor="middle" fill="#1e1e1e" font-weight="normal">1</text>
<text x="167.42" y="427.00" font-size="8.5" text-anchor="middle" fill="#1e1e1e" font-weight="normal">1</text>
<text x="180.66" y="427.00" font-size="8.5" text-anchor="middle" fill="#1e1e1e" font-weight="normal">1</text>
<text x="193.90" y="427.00" font-size="8.5" text-anchor="middle" fill="#1e1e1e" font-weight="normal">0</text>
<text x="207.14" y="427.00" font-size="8.5" text-anchor="middle" fill="#1e1e1e" font-weight="normal">0</text>
<text x="220.38" y="427.00" font-size="8.5" text-anchor="middle" fill="#1e1e1e" font-weight="normal">0</text>
<text x="268.00" y="239.00" font-size="12.6" text-anchor="start" fill="#000" font-weight="bold">D</text>
<text x="290.80" y="248.30" font-size="9.0" text-anchor="start" fill="#1e1e1e" font-weight="normal" textLength="116.4" lengthAdjust="spacingAndGlyphs">Marrow MRD by IGH sequencing</text>
<line x1="415.60" y1="246.00" x2="426.80" y2="246.00" stroke="#ae1038" stroke-width="1.5"/>
<line x1="421.20" y1="243.20" x2="421.20" y2="248.80" stroke="#ae1038" stroke-width="1.3"/>
<text x="429.50" y="248.70" font-size="9.0" text-anchor="start" fill="#1e1e1e" font-weight="normal" textLength="32.2" lengthAdjust="spacingAndGlyphs">Negative</text>
<line x1="471.00" y1="246.00" x2="482.20" y2="246.00" stroke="#44705b" stroke-width="1.5"/>
<line x1="476.60" y1="243.20" x2="476.60" y2="248.80" stroke="#44705b" stroke-width="1.3"/>
<text x="485.30" y="248.70" font-size="9.0" text-anchor="start" fill="#1e1e1e" font-weight="normal" textLength="27.6" lengthAdjust="spacingAndGlyphs">Positive</text>
<line x1="314.00" y1="260.00" x2="314.00" y2="346.85" stroke="#151515" stroke-width="1.3"/>
<line x1="313.35" y1="346.20" x2="488.80" y2="346.20" stroke="#151515" stroke-width="1.3"/>
<line x1="310.80" y1="342.20" x2="314.00" y2="342.20" stroke="#151515" stroke-width="1.2"/>
<text x="308.10" y="345.20" font-size="9.3" text-anchor="end" fill="#1e1e1e" font-weight="normal" textLength="17.0" lengthAdjust="spacingAndGlyphs">0.00</text>
<line x1="310.80" y1="322.55" x2="314.00" y2="322.55" stroke="#151515" stroke-width="1.2"/>
<text x="308.10" y="325.55" font-size="9.3" text-anchor="end" fill="#1e1e1e" font-weight="normal" textLength="17.0" lengthAdjust="spacingAndGlyphs">0.25</text>
<line x1="310.80" y1="302.90" x2="314.00" y2="302.90" stroke="#151515" stroke-width="1.2"/>
<text x="308.10" y="305.90" font-size="9.3" text-anchor="end" fill="#1e1e1e" font-weight="normal" textLength="17.0" lengthAdjust="spacingAndGlyphs">0.50</text>
<line x1="310.80" y1="283.25" x2="314.00" y2="283.25" stroke="#151515" stroke-width="1.2"/>
<text x="308.10" y="286.25" font-size="9.3" text-anchor="end" fill="#1e1e1e" font-weight="normal" textLength="17.0" lengthAdjust="spacingAndGlyphs">0.75</text>
<line x1="310.80" y1="263.60" x2="314.00" y2="263.60" stroke="#151515" stroke-width="1.2"/>
<text x="308.10" y="266.60" font-size="9.3" text-anchor="end" fill="#1e1e1e" font-weight="normal" textLength="17.0" lengthAdjust="spacingAndGlyphs">1.00</text>
<line x1="321.80" y1="346.20" x2="321.80" y2="349.50" stroke="#151515" stroke-width="1.2"/>
<text x="0.00" y="0.00" font-size="8.8" text-anchor="middle" fill="#1e1e1e" font-weight="normal" transform="translate(321.80,359.80) scale(0.94,1)" stroke="#262626" stroke-width="0.18">0</text>
<line x1="335.09" y1="346.20" x2="335.09" y2="349.50" stroke="#151515" stroke-width="1.2"/>
<text x="0.00" y="0.00" font-size="8.8" text-anchor="middle" fill="#1e1e1e" font-weight="normal" transform="translate(335.09,359.80) scale(0.94,1)" stroke="#262626" stroke-width="0.18">1</text>
<line x1="348.38" y1="346.20" x2="348.38" y2="349.50" stroke="#151515" stroke-width="1.2"/>
<text x="0.00" y="0.00" font-size="8.8" text-anchor="middle" fill="#1e1e1e" font-weight="normal" transform="translate(348.38,359.80) scale(0.94,1)" stroke="#262626" stroke-width="0.18">2</text>
<line x1="361.67" y1="346.20" x2="361.67" y2="349.50" stroke="#151515" stroke-width="1.2"/>
<text x="0.00" y="0.00" font-size="8.8" text-anchor="middle" fill="#1e1e1e" font-weight="normal" transform="translate(361.67,359.80) scale(0.94,1)" stroke="#262626" stroke-width="0.18">3</text>
<line x1="374.96" y1="346.20" x2="374.96" y2="349.50" stroke="#151515" stroke-width="1.2"/>
<text x="0.00" y="0.00" font-size="8.8" text-anchor="middle" fill="#1e1e1e" font-weight="normal" transform="translate(374.96,359.80) scale(0.94,1)" stroke="#262626" stroke-width="0.18">4</text>
<line x1="388.25" y1="346.20" x2="388.25" y2="349.50" stroke="#151515" stroke-width="1.2"/>
<text x="0.00" y="0.00" font-size="8.8" text-anchor="middle" fill="#1e1e1e" font-weight="normal" transform="translate(388.25,359.80) scale(0.94,1)" stroke="#262626" stroke-width="0.18">5</text>
<line x1="401.54" y1="346.20" x2="401.54" y2="349.50" stroke="#151515" stroke-width="1.2"/>
<text x="0.00" y="0.00" font-size="8.8" text-anchor="middle" fill="#1e1e1e" font-weight="normal" transform="translate(401.54,359.80) scale(0.94,1)" stroke="#262626" stroke-width="0.18">6</text>
<line x1="414.83" y1="346.20" x2="414.83" y2="349.50" stroke="#151515" stroke-width="1.2"/>
<text x="0.00" y="0.00" font-size="8.8" text-anchor="middle" fill="#1e1e1e" font-weight="normal" transform="translate(414.83,359.80) scale(0.94,1)" stroke="#262626" stroke-width="0.18">7</text>
<line x1="428.12" y1="346.20" x2="428.12" y2="349.50" stroke="#151515" stroke-width="1.2"/>
<text x="0.00" y="0.00" font-size="8.8" text-anchor="middle" fill="#1e1e1e" font-weight="normal" transform="translate(428.12,359.80) scale(0.94,1)" stroke="#262626" stroke-width="0.18">8</text>
<line x1="441.41" y1="346.20" x2="441.41" y2="349.50" stroke="#151515" stroke-width="1.2"/>
<text x="0.00" y="0.00" font-size="8.8" text-anchor="middle" fill="#1e1e1e" font-weight="normal" transform="translate(441.41,359.80) scale(0.94,1)" stroke="#262626" stroke-width="0.18">9</text>
<line x1="454.70" y1="346.20" x2="454.70" y2="349.50" stroke="#151515" stroke-width="1.2"/>
<text x="0.00" y="0.00" font-size="8.8" text-anchor="middle" fill="#1e1e1e" font-weight="normal" transform="translate(454.70,359.80) scale(0.94,1)" stroke="#262626" stroke-width="0.18">10</text>
<line x1="467.99" y1="346.20" x2="467.99" y2="349.50" stroke="#151515" stroke-width="1.2"/>
<text x="0.00" y="0.00" font-size="8.8" text-anchor="middle" fill="#1e1e1e" font-weight="normal" transform="translate(467.99,359.80) scale(0.94,1)" stroke="#262626" stroke-width="0.18">11</text>
<line x1="481.28" y1="346.20" x2="481.28" y2="349.50" stroke="#151515" stroke-width="1.2"/>
<text x="0.00" y="0.00" font-size="8.8" text-anchor="middle" fill="#1e1e1e" font-weight="normal" transform="translate(481.28,359.80) scale(0.94,1)" stroke="#262626" stroke-width="0.18">12</text>
<text x="401.74" y="373.50" font-size="10.2" text-anchor="middle" fill="#1e1e1e" font-weight="normal" stroke="#262626" stroke-width="0.18" textLength="136" lengthAdjust="spacingAndGlyphs">Time after CAR T-cell infusion (months)</text>
<text x="0.00" y="0.00" font-size="10.4" text-anchor="middle" fill="#1e1e1e" font-weight="normal" transform="translate(285.80,303.30) rotate(-90) scale(1.0,1)" stroke="#262626" stroke-width="0.18" textLength="86.0" lengthAdjust="spacingAndGlyphs">Progression-free survival</text>
<path d="M459.60,263.60 H459.60 V286.80 H476.60 V304.00 H480.30 V317.10 H488.30" fill="none" stroke="#ae1038" stroke-width="1.4" stroke-dasharray="3.2 2.3"/>
<line x1="459.60" y1="263.60" x2="487.50" y2="263.60" stroke="#ae1038" stroke-width="1.5" stroke-dasharray="3.2 2.3"/>
<path d="M380.80,263.60 H459.60 V272.60 H476.30 V283.70 H479.90 V295.80 H488.60" fill="none" stroke="#ae1038" stroke-width="1.5"/>
<line x1="469.90" y1="270.00" x2="469.90" y2="275.20" stroke="#ae1038" stroke-width="1.2"/>
<line x1="474.40" y1="270.00" x2="474.40" y2="275.20" stroke="#ae1038" stroke-width="1.2"/>
<line x1="488.30" y1="293.20" x2="488.30" y2="298.40" stroke="#ae1038" stroke-width="1.2"/>
<line x1="337.40" y1="263.60" x2="380.80" y2="263.60" stroke="#44705b" stroke-width="1.5"/>
<line x1="337.40" y1="263.60" x2="380.80" y2="263.60" stroke="#ae1038" stroke-width="1.5" stroke-dasharray="2.2 3.38" stroke-dashoffset="0.88"/>
<line x1="353.00" y1="261.00" x2="353.00" y2="266.20" stroke="#ae1038" stroke-width="1.2"/>
<line x1="359.10" y1="261.00" x2="359.10" y2="266.20" stroke="#ae1038" stroke-width="1.2"/>
<path d="M337.40,263.60 H337.40 V332.90 H379.30" fill="none" stroke="#285a41" stroke-width="1.4" stroke-dasharray="3.2 2.3"/>
<path d="M322.10,263.60 H337.40 V303.20 H382.30" fill="none" stroke="#44705b" stroke-width="1.5"/>
<line x1="380.70" y1="300.60" x2="380.70" y2="305.80" stroke="#44705b" stroke-width="1.2"/>
<text x="428.10" y="327.30" font-size="8.4" text-anchor="start" fill="#1e1e1e" font-weight="normal" textLength="34.6" lengthAdjust="spacingAndGlyphs">p = 0.019</text>
<text x="314.40" y="391.90" font-size="8.5" text-anchor="start" fill="#1e1e1e" font-weight="normal" textLength="51.6" lengthAdjust="spacingAndGlyphs">Number at risk</text>
<line x1="314.20" y1="397.10" x2="314.20" y2="434.20" stroke="#151515" stroke-width="1.4"/>
<line x1="313.50" y1="433.50" x2="489.00" y2="433.50" stroke="#151515" stroke-width="1.5"/>
<line x1="297.10" y1="405.80" x2="308.10" y2="405.80" stroke="#ae1038" stroke-width="1.8"/>
<text x="321.80" y="408.80" font-size="8.5" text-anchor="middle" fill="#1e1e1e" font-weight="normal">11</text>
<text x="335.09" y="408.80" font-size="8.5" text-anchor="middle" fill="#1e1e1e" font-weight="normal">11</text>
<text x="348.38" y="408.80" font-size="8.5" text-anchor="middle" fill="#1e1e1e" font-weight="normal">11</text>
<text x="361.67" y="408.80" font-size="8.5" text-anchor="middle" fill="#1e1e1e" font-weight="normal">11</text>
<text x="374.96" y="408.80" font-size="8.5" text-anchor="middle" fill="#1e1e1e" font-weight="normal">11</text>
<text x="388.25" y="408.80" font-size="8.5" text-anchor="middle" fill="#1e1e1e" font-weight="normal">11</text>
<text x="401.54" y="408.80" font-size="8.5" text-anchor="middle" fill="#1e1e1e" font-weight="normal">11</text>
<text x="414.83" y="408.80" font-size="8.5" text-anchor="middle" fill="#1e1e1e" font-weight="normal">9</text>
<text x="428.12" y="408.80" font-size="8.5" text-anchor="middle" fill="#1e1e1e" font-weight="normal">9</text>
<text x="441.41" y="408.80" font-size="8.5" text-anchor="middle" fill="#1e1e1e" font-weight="normal">9</text>
<text x="454.70" y="408.80" font-size="8.5" text-anchor="middle" fill="#1e1e1e" font-weight="normal">9</text>
<text x="467.99" y="408.80" font-size="8.5" text-anchor="middle" fill="#1e1e1e" font-weight="normal">9</text>
<text x="481.28" y="408.80" font-size="8.5" text-anchor="middle" fill="#1e1e1e" font-weight="normal">6</text>
<line x1="297.10" y1="424.00" x2="308.10" y2="424.00" stroke="#44705b" stroke-width="1.8"/>
<text x="321.80" y="427.00" font-size="8.5" text-anchor="middle" fill="#1e1e1e" font-weight="normal">2</text>
<text x="335.09" y="427.00" font-size="8.5" text-anchor="middle" fill="#1e1e1e" font-weight="normal">2</text>
<text x="348.38" y="427.00" font-size="8.5" text-anchor="middle" fill="#1e1e1e" font-weight="normal">1</text>
<text x="361.67" y="427.00" font-size="8.5" text-anchor="middle" fill="#1e1e1e" font-weight="normal">1</text>
<text x="374.96" y="427.00" font-size="8.5" text-anchor="middle" fill="#1e1e1e" font-weight="normal">1</text>
<text x="388.25" y="427.00" font-size="8.5" text-anchor="middle" fill="#1e1e1e" font-weight="normal">1</text>
<text x="401.54" y="427.00" font-size="8.5" text-anchor="middle" fill="#1e1e1e" font-weight="normal">1</text>
<text x="414.83" y="427.00" font-size="8.5" text-anchor="middle" fill="#1e1e1e" font-weight="normal">1</text>
<text x="428.12" y="427.00" font-size="8.5" text-anchor="middle" fill="#1e1e1e" font-weight="normal">1</text>
<text x="441.41" y="427.00" font-size="8.5" text-anchor="middle" fill="#1e1e1e" font-weight="normal">1</text>
<text x="454.70" y="427.00" font-size="8.5" text-anchor="middle" fill="#1e1e1e" font-weight="normal">0</text>
<text x="467.99" y="427.00" font-size="8.5" text-anchor="middle" fill="#1e1e1e" font-weight="normal">0</text>
<text x="481.28" y="427.00" font-size="8.5" text-anchor="middle" fill="#1e1e1e" font-weight="normal">0</text>
<rect x="0.5" y="0.5" width="519" height="440" fill="none" stroke="#000" stroke-width="1.2"/>
</svg>
</body></html>
